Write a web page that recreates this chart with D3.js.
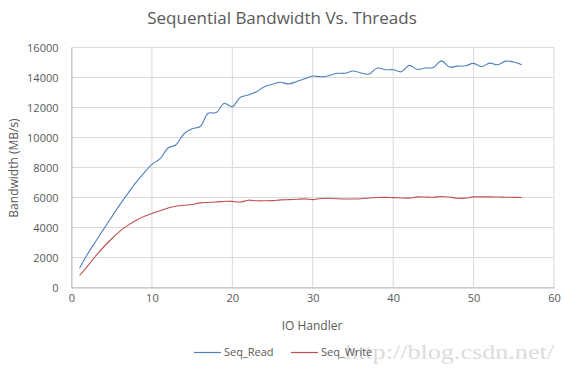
<!DOCTYPE html>
<html><head><meta charset="utf-8">
<script src="https://cdn.jsdelivr.net/npm/d3@7"></script>
<style>body{margin:0;background:#fff}svg{display:block}</style>
</head><body>
<svg id="chart" width="565" height="375"></svg>
<script>
const threads = d3.range(1, 57);
const seqRead = [1280,2230,3070,3890,4710,5510,6260,6990,7630,8210,8570,9300,9520,10250,10580,10730,11620,11660,12280,12060,12680,12830,13050,13390,13550,13680,13570,13740,13920,14100,14050,14120,14280,14280,14430,14300,14230,14630,14520,14520,14380,14810,14540,14630,14670,15110,14700,14760,14780,14940,14720,14960,14850,15090,15030,14850];
const seqWrite = [800,1430,2100,2700,3250,3740,4140,4470,4730,4930,5110,5300,5420,5480,5530,5640,5670,5700,5750,5740,5700,5820,5780,5780,5790,5840,5860,5880,5910,5860,5930,5950,5920,5900,5900,5920,5970,6000,6010,5990,5970,5960,6040,6030,6020,6070,6030,5950,5950,6040,6040,6040,6030,6020,6010,6000];
const xTicks = [0,10,20,30,40,50,60];
const yTicks = [0,2000,4000,6000,8000,10000,12000,14000,16000];
const seriesNames = ["Seq_Read","Seq_Write"];
const seriesColors = ["#4F81BD","#C0504D"];
const titleText = "Sequential Bandwidth Vs. Threads";
const xTitle = "IO Handler";
const yTitle = "Bandwidth (MB/s)";
const watermark = "http://blog.csdn.net/";

const svg = d3.select("#chart");
const font = "'Open Sans', sans-serif";
const x = d3.scaleLinear().domain([0,60]).range([71.5,554]);
const y = d3.scaleLinear().domain([0,16000]).range([287.5,47.5]);

// gridlines
svg.append("g").selectAll("line").data(yTicks).join("line")
  .attr("x1", x(0)).attr("x2", x(60)).attr("y1", d=>y(d)).attr("y2", d=>y(d))
  .attr("stroke", "#d9d9d9").attr("stroke-width", 1);
svg.append("g").selectAll("line").data(xTicks).join("line")
  .attr("x1", d=>x(d)).attr("x2", d=>x(d)).attr("y1", y(0)).attr("y2", y(16000))
  .attr("stroke", "#d9d9d9").attr("stroke-width", 1);

// axes labels via d3 axes
const yAxis = svg.append("g").attr("transform", `translate(${x(0)},0)`)
  .call(d3.axisLeft(y).tickValues(yTicks).tickSize(0).tickPadding(13).tickFormat(d3.format("d")));
const xAxis = svg.append("g").attr("transform", `translate(0,${y(0)})`)
  .call(d3.axisBottom(x).tickValues(xTicks).tickSize(0).tickPadding(7));
[xAxis, yAxis].forEach(a => {
  a.select(".domain").attr("stroke", "#bfbfbf");
  a.selectAll("text").attr("font-family", font).attr("font-size", 11).attr("fill", "#595959");
});

// lines
const line = d3.line().x((d,i)=>x(threads[i])).y(d=>y(d)).curve(d3.curveCatmullRom.alpha(0.5));
[seqRead, seqWrite].forEach((s, k) => {
  svg.append("path").datum(s).attr("d", line).attr("fill", "none")
    .attr("stroke", seriesColors[k]).attr("stroke-width", 1.1);
});

// titles
svg.append("text").attr("x", 282).attr("y", 24).attr("text-anchor", "middle")
  .attr("font-family", font).attr("font-size", 17).attr("fill", "#595959").text(titleText);
svg.append("text").attr("x", 312).attr("y", 330).attr("text-anchor", "middle")
  .attr("font-family", font).attr("font-size", 12).attr("fill", "#595959").text(xTitle);
svg.append("text").attr("transform", "translate(18,168) rotate(-90)").attr("text-anchor", "middle")
  .attr("font-family", font).attr("font-size", 12).attr("fill", "#595959").text(yTitle);

// watermark
svg.append("text").attr("x", 345).attr("y", 359).attr("textLength", 209).attr("lengthAdjust", "spacingAndGlyphs")
  .attr("font-family", "'Liberation Serif', serif").attr("font-size", 21).attr("fill", "#dcdcdc").text(watermark);

// legend
const legendX = [194, 291];
seriesNames.forEach((n, k) => {
  const g = svg.append("g").attr("transform", `translate(${legendX[k]},352)`);
  g.append("line").attr("x1", 0).attr("x2", 27).attr("y1", 0.5).attr("y2", 0.5)
    .attr("stroke", seriesColors[k]).attr("stroke-width", 1.2);
  g.append("text").attr("x", 30).attr("y", 4).attr("font-family", font).attr("font-size", 11)
    .attr("fill", "#595959").text(n);
});
</script>
</body></html>
